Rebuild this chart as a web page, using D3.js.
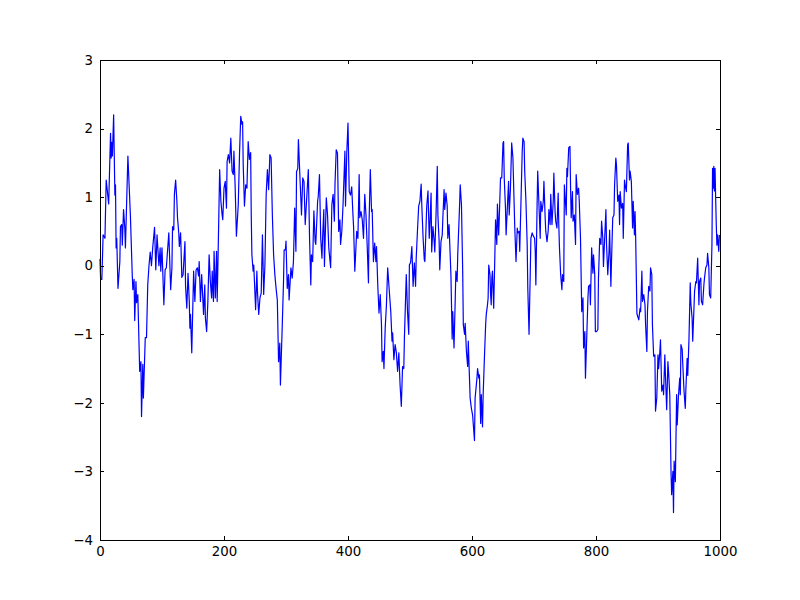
<!DOCTYPE html>
<meta charset="utf-8">
<style>
  body { margin: 0; background: #fff; }
  .axis text { font: 13.33px "DejaVu Sans", sans-serif; fill: #000; }
  .axis line { stroke: #000; shape-rendering: crispEdges; }
  .axis path { display: none; }
  .frame { fill: none; stroke: #000; shape-rendering: crispEdges; }
  .line { fill: none; stroke: #0000ff; stroke-width: 1.2px; stroke-linejoin: round; }
</style>
<body>
<script src="https://cdn.jsdelivr.net/npm/d3@7"></script>
<script>

  // vertices of the trace: sample index, value
  var xs = [0,1,3,5,8,10,14,17,18,19,20,22,24,25,26,27,29,32,33,35,36,38,40,41,45,49,52,53,55,56,58,59,61,64,66,67,69,70,73,75,77,79,81,
    83,85,88,90,92,95,97,98,100,103,105,107,111,114,116,117,119,120,122,124,125,127,128,130,132,134,137,138,140,142,144,145,146,148,151,153,155,157,159,160,162,164,
    167,169,170,172,174,176,178,180,181,183,184,186,188,189,191,193,195,197,198,200,202,204,205,207,209,211,213,215,216,218,220,223,225,227,229,230,231,233,235,237,239,241,243,244,245,247,
    248,251,253,254,256,258,260,262,264,266,268,270,272,274,276,278,280,282,284,286,288,290,291,294,296,297,299,300,302,304,305,308,310,312,314,316,317,319,320,323,325,327,329,331,
    336,338,340,341,343,345,347,348,351,352,354,356,358,359,361,362,365,367,369,372,374,376,378,379,381,383,385,387,388,390,392,395,396,398,400,402,404,406,408,409,411,414,416,
    418,419,421,423,425,427,429,431,433,434,436,438,439,441,443,445,446,448,450,452,454,455,457,458,460,462,464,467,469,471,472,474,476,478,480,482,484,486,488,490,491,494,496,498,499,
    501,503,505,507,509,510,512,514,516,518,519,521,523,524,526,527,529,531,532,534,535,537,539,540,542,544,545,547,548,550,552,553,555,556,558,560,561,563,564,566,568,569,571,573,574,576,577,580,581,583,
    585,586,588,589,591,593,594,596,597,599,601,604,605,608,609,611,612,614,615,617,618,620,622,623,625,626,627,629,630,631,632,633,635,637,638,640,641,643,644,646,648,650,651,652,654,655,657,659,660,662,664,666,
    669,671,673,674,676,677,679,681,682,684,685,687,689,690,692,694,695,697,698,701,702,703,705,706,708,710,711,713,715,716,718,719,721,723,724,726,727,729,731,732,734,735,737,739,740,741,743,745,746,748,749,751,
    752,753,754,756,758,759,760,762,763,765,767,768,770,772,773,775,777,779,780,782,783,785,787,788,790,791,793,795,796,798,799,801,803,804,806,808,809,811,812,814,816,817,819,821,822,824,825,827,829,830,832,833,835,
    837,838,839,841,843,844,846,847,849,851,852,854,855,857,859,860,862,863,864,866,868,869,871,872,874,875,877,879,880,882,883,885,887,888,890,891,893,895,896,898,900,901,903,904,906,908,909,911,912,914,916,917,919,
    921,922,924,925,926,928,930,931,933,935,936,937,939,940,942,944,945,947,948,950,952,953,955,956,958,959,961,962,964,966,967,969,970,972,974,975,977,979,980,982,983,985,987,988,989,990,991,992,993,994,995,996,998,999];

  var ys = [0.1,-0.2,-0.2,0.45,0.4,1.25,0.9,1.93,1.57,1.8,1.6,2.2,1.03,1.18,0.26,0.4,-0.33,0.06,0.57,0.6,0.3,0.82,0.55,0.26,1.6,0.74,-0.13,-0.35,-0.2,-0.8,-0.23,-0.54,-0.42,-1.54,-1.4,-2.2,-1.44,-1.93,-1.05,-1.05,-0.28,0.0,0.2,
    0.0,0.26,0.56,-0.06,0.45,0.0,0.26,-0.08,0.26,-0.57,-0.06,-0.03,0.48,-0.35,-0.03,0.57,0.52,1.04,1.25,0.94,0.7,0.48,0.28,0.48,-0.17,-0.13,0.35,-0.3,-0.62,-0.11,-0.52,-0.91,-0.71,-1.27,-0.08,-0.52,-0.06,-0.03,-0.15,0.06,-0.52,-0.13,
    -0.71,-0.28,-0.76,-0.96,-0.52,0.16,-0.23,-0.47,-0.08,-0.52,0.21,-0.47,0.21,-0.52,0.4,1.4,0.94,0.74,0.67,1.13,1.23,0.84,1.52,1.62,1.5,1.86,1.38,1.33,1.67,1.15,0.43,0.89,1.62,2.18,2.06,2.1,1.47,0.87,1.18,1.13,1.81,1.55,1.65,0.7,0.16,-0.08,
    0.01,-0.64,-0.08,-0.38,-0.71,-0.47,-0.4,0.45,-0.42,0.01,1.03,1.4,1.11,1.62,1.57,0.74,0.16,-0.13,-0.33,-0.5,-1.4,-1.13,-1.74,-0.86,-0.23,0.23,0.23,0.36,-0.33,-0.13,-0.5,-0.03,-0.18,0.06,0.84,0.21,1.37,1.42,1.84,1.18,0.74,1.28,1.23,0.6,
    1.4,0.4,-0.28,0.16,0.06,0.8,0.35,0.31,0.94,1.01,1.33,0.4,0.11,0.4,0.82,-0.01,0.99,0.74,0.26,-0.03,0.89,1.04,0.65,1.18,1.69,1.64,0.5,0.67,0.31,0.5,0.89,1.67,0.87,1.64,2.08,1.08,1.03,1.15,0.74,0.57,-0.08,0.5,0.4,
    1.33,0.7,0.79,0.67,0.4,1.04,0.74,0.28,-0.25,0.65,1.4,0.79,0.82,0.06,0.33,0.06,0.28,-0.28,-0.69,-0.42,-0.86,-1.4,-1.25,-1.5,-0.91,-0.57,-0.03,-0.42,-0.67,-1.1,-0.98,-1.37,-1.15,-1.27,-1.54,-1.27,-1.74,-2.05,-1.47,-1.5,-1.05,-0.13,-0.67,-1.0,0.01,
    0.05,0.28,-0.3,0.04,-0.3,0.11,0.5,0.87,0.94,1.19,0.89,0.43,0.09,0.06,0.6,0.87,1.09,0.4,0.57,1.06,0.2,0.57,0.35,0.2,0.74,1.45,0.74,0.35,-0.06,0.35,0.45,0.7,1.11,0.82,1.06,0.87,0.4,0.6,0.35,-0.13,-1.07,-0.67,-1.2,-0.47,-0.08,-0.23,0.16,0.89,1.18,0.89,
    -0.08,-0.86,-1.0,-0.84,-1.25,-1.47,-1.1,-1.66,-1.93,-2.08,-2.18,-2.55,-1.93,-1.64,-1.5,-1.64,-1.59,-2.3,-1.88,-2.35,-1.88,-1.35,-0.86,-0.71,-0.57,-0.47,0.01,-0.13,-0.42,-0.57,-0.18,-0.08,-0.62,0.21,0.67,0.31,0.9,0.45,0.7,1.28,1.28,1.79,1.81,1.28,0.84,0.45,0.84,1.23,0.74,1.13,1.79,1.57,
    0.55,0.06,0.55,0.48,0.5,0.21,0.94,1.67,1.86,1.81,1.38,0.94,0.31,-0.33,-1.0,-0.08,0.4,0.48,0.45,0.4,0.21,-0.28,0.89,1.38,0.89,0.4,0.94,0.79,0.94,1.23,0.7,0.5,0.35,0.52,0.82,0.6,1.04,0.6,0.94,1.35,0.79,0.65,0.55,1.06,0.6,0.28,-0.13,-0.35,-0.13,-0.23,1.18,0.89,
    0.74,1.42,1.3,1.72,1.74,1.13,0.7,1.08,0.65,0.74,0.31,1.33,1.04,1.13,0.94,0.4,-0.67,-0.47,-1.2,-0.96,-1.64,-1.06,-0.47,-0.3,-0.28,-0.57,0.26,-0.11,0.16,-0.13,-0.96,-0.96,-0.93,-0.18,0.4,0.31,0.65,0.4,-0.01,0.4,0.82,0.31,-0.13,0.21,0.52,-0.3,0.06,0.7,0.74,1.18,1.57,1.47,0.94,
    1.03,0.6,1.08,0.84,0.91,0.4,1.25,1.18,1.08,1.76,1.79,1.25,1.38,1.23,0.55,0.94,0.45,0.79,0.4,-0.7,-0.76,-0.79,-0.62,-0.67,-0.08,-0.52,-0.42,-0.57,-0.86,-1.25,-0.67,-0.3,-0.37,-0.03,-0.13,-0.86,-1.32,-1.3,-2.12,-1.93,-1.3,-1.5,-1.25,-1.08,-1.83,-1.74,-1.88,-1.3,-1.59,-2.1,-1.4,-1.54,-1.88,
    -3.0,-3.34,-3.0,-3.6,-2.85,-3.15,-1.88,-2.32,-1.9,-1.64,-1.88,-1.15,-1.22,-1.44,-1.83,-2.08,-1.79,-1.35,-1.6,-1.06,-0.25,-0.55,-0.76,-1.1,-0.62,-0.37,-0.23,-0.25,0.11,-0.57,-0.23,-0.18,-0.52,-0.57,-0.28,-0.18,-0.03,0.01,0.18,-0.03,-0.42,-0.47,0.3,1.42,1.13,1.45,1.09,1.42,0.99,0.6,0.3,0.45,0.21,0.45];

  var xTicks = [0, 200, 400, 600, 800, 1000],
      yTicks = [-4, -3, -2, -1, 0, 1, 2, 3];

  var margin = { top: 60, right: 80, bottom: 60, left: 100 },
      width = 800 - margin.left - margin.right,
      height = 600 - margin.top - margin.bottom;

  var data = xs.map(function(d, i) { return { i: d, v: ys[i] }; });

  var x = d3.scaleLinear().domain([0, 1000]).range([0, width]);
  var y = d3.scaleLinear().domain([-4, 3]).range([height, 0]);

  var svg = d3.select("body").append("svg")
      .attr("width", 800)
      .attr("height", 600)
      .append("g")
      .attr("transform", "translate(" + margin.left + "," + margin.top + ")");

  var line = d3.line()
      .x(function(d) { return x(d.i); })
      .y(function(d) { return y(d.v); });

  svg.append("path")
      .datum(data)
      .attr("class", "line")
      .attr("d", line);

  // ticks point inward, on all four sides
  svg.append("g")
      .attr("class", "axis")
      .attr("transform", "translate(0," + height + ")")
      .call(d3.axisBottom(x).tickValues(xTicks).tickSize(-4).tickPadding(7).tickFormat(d3.format("d")));

  svg.append("g")
      .attr("class", "axis")
      .call(d3.axisTop(x).tickValues(xTicks).tickSize(-4).tickFormat(""));

  svg.append("g")
      .attr("class", "axis")
      .call(d3.axisLeft(y).tickValues(yTicks).tickSize(-4).tickPadding(7).tickFormat(d3.format("d")));

  svg.append("g")
      .attr("class", "axis")
      .attr("transform", "translate(" + width + ",0)")
      .call(d3.axisRight(y).tickValues(yTicks).tickSize(-4).tickFormat(""));

  svg.append("rect")
      .attr("class", "frame")
      .attr("x", 0.5)
      .attr("y", 0.5)
      .attr("width", width)
      .attr("height", height);

</script>
